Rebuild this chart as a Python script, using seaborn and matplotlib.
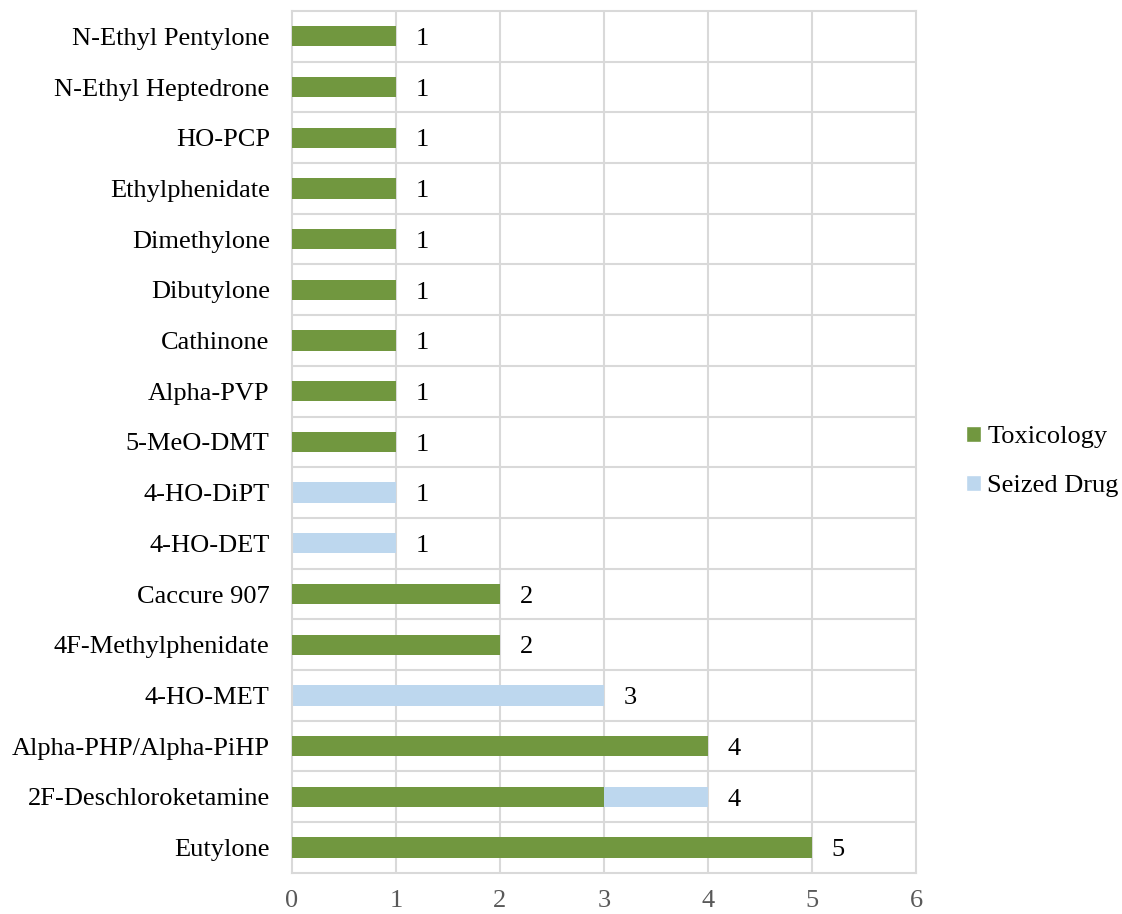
import pandas as pd
import numpy as np
import matplotlib
matplotlib.use("Agg")
import matplotlib.pyplot as plt
from matplotlib.patches import Patch
import seaborn as sns

# data, top to bottom as shown in the chart
substances = ["N-Ethyl Pentylone", "N-Ethyl Heptedrone", "HO-PCP", "Ethylphenidate",
              "Dimethylone", "Dibutylone", "Cathinone", "Alpha-PVP", "5-MeO-DMT",
              "4-HO-DiPT", "4-HO-DET", "Caccure 907", "4F-Methylphenidate", "4-HO-MET",
              "Alpha-PHP/Alpha-PiHP", "2F-Deschloroketamine", "Eutylone"]
toxicology = [1, 1, 1, 1, 1, 1, 1, 1, 1, 0, 0, 2, 2, 0, 4, 3, 5]
seized_drug = [0, 0, 0, 0, 0, 0, 0, 0, 0, 1, 1, 0, 0, 3, 0, 1, 0]

GREEN = "#71973F"
BLUE = "#BDD7EE"
GRID = "#D9D9D9"
FS = 19

df = pd.DataFrame({"substance": substances, "Toxicology": toxicology, "Seized Drug": seized_drug})
df["total"] = df["Toxicology"] + df["Seized Drug"]

sns.set_style("white")
plt.rcParams["font.family"] = ["Liberation Serif", "DejaVu Serif"]

fig = plt.figure(figsize=(11.22, 9.14), dpi=100)
ax = fig.add_axes([0.2602, 0.0450, 0.5562, 0.9430])

# stacked bars: total in blue, toxicology drawn over it in green
sns.barplot(data=df, x="total", y="substance", orient="h", color=BLUE, width=0.4,
            saturation=1, linewidth=0, ax=ax, zorder=2)
sns.barplot(data=df, x="Toxicology", y="substance", orient="h", color=GREEN, width=0.4,
            saturation=1, linewidth=0, ax=ax, zorder=3)

ax.set_xlim(0, 6)
ax.set_ylim(len(substances) - 0.5, -0.5)
ax.set_xticks(range(0, 7))
for xv in range(1, 6):
    ax.axvline(xv, color=GRID, lw=1.5, zorder=1)
for yv in np.arange(0.5, len(substances) - 0.5, 1):
    ax.axhline(yv, color=GRID, lw=1.5, zorder=1)
for s in ax.spines.values():
    s.set_color(GRID)
    s.set_linewidth(1.5)

for i, tot in enumerate(df["total"]):
    ax.annotate(str(tot), xy=(tot, i), xytext=(14, -2), textcoords="offset points",
                ha="left", va="center", fontsize=FS, color="black")

ax.set_xlabel("")
ax.set_ylabel("")
ax.tick_params(axis="x", length=0, pad=12, labelsize=FS, labelcolor="#595959")
ax.tick_params(axis="y", length=0, pad=16, labelsize=FS, labelcolor="black")

handles = [Patch(facecolor=GREEN, label="Toxicology"),
           Patch(facecolor=BLUE, label="Seized Drug")]
fig.legend(handles=handles, loc="center left", bbox_to_anchor=(0.840, 0.495),
           frameon=False, fontsize=FS, handlelength=0.55, handleheight=0.55,
           handletextpad=0.25, labelspacing=1.0, labelcolor="black")

fig.savefig("out.png", dpi=100)
